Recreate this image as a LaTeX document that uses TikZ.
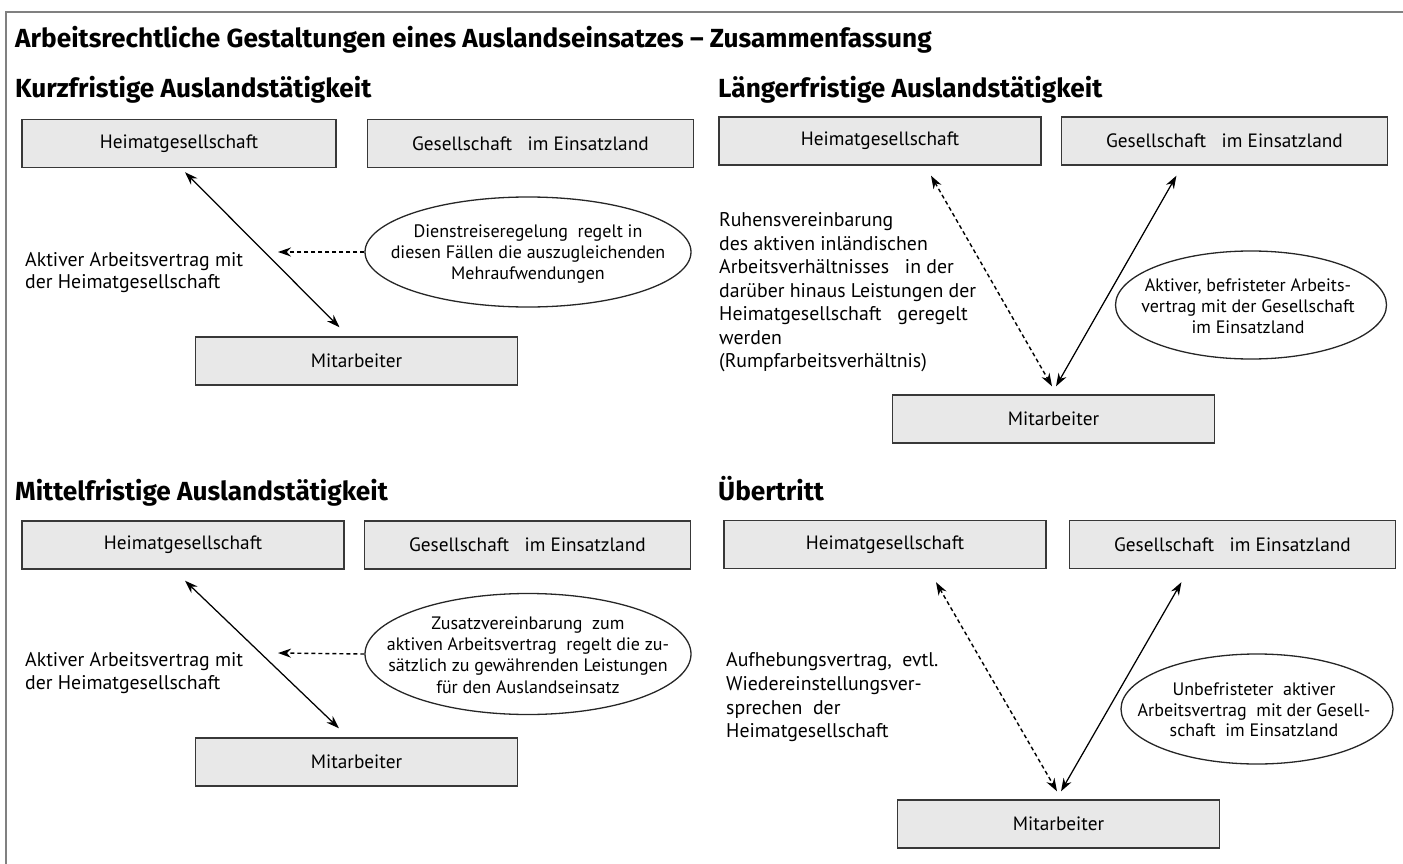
\documentclass[tikz,border=0pt]{standalone}
\usepackage{fontspec}
\setmainfont{PT Sans}
\newfontfamily\headfont{Fira Sans}
\usetikzlibrary{positioning,shapes.geometric,arrows.meta}

\begin{document}
\begin{tikzpicture}[x=1pt,y=-1pt,>={Stealth[length=13pt,width=9pt]},
  box/.style={rectangle,draw=black!78,fill=black!9,line width=1.4pt,
    minimum width=322pt,minimum height=48pt,inner sep=0pt,
    font=\fontsize{19.3}{22}\selectfont},
  wide box/.style={box,minimum width=326pt},
  oval/.style={ellipse,draw=black!85,line width=1.3pt,inner sep=0pt},
  oval text/.style={align=center,inner sep=0pt,font=\fontsize{18}{21}\selectfont},
  head/.style={anchor=base west,inner sep=0pt,font=\headfont\fontsize{26.2}{30}\selectfont\bfseries},
  side text/.style={anchor=west,align=left,inner sep=0pt},
  arr/.style={line width=1.25pt},
  dash arr/.style={arr,line width=1.4pt,dash pattern=on 4pt off 3pt}]

  \useasboundingbox (0,0) rectangle (1403,864);
  \draw[black!50,line width=1.8pt] (6,864) -- (6,12) -- (1403,12);

  \node[head] (title) at (15,48) {Arbeitsrechtliche Gestaltungen eines Auslandseinsatzes – Zusammenfassung};

  % kurzfristig
  \node[head] (k) at (15,98) {Kurzfristige Auslandstätigkeit};
  \node[box,minimum width=314pt] (h1) at (179,143.5) {Heimatgesellschaft};
  \node[wide box] (g1) [right=30pt of h1] {Gesellschaft\ \ \ im Einsatzland};
  \node[box] (m1) at (356.5,361) {Mitarbeiter};
  \node[oval,minimum width=326pt,minimum height=110pt] (e1) at (528,252) {};
  \node[oval text] (t1) at (528,254) {Dienstreiseregelung\ \ regelt in\\diesen Fällen die auszugleichenden\\Mehraufwendungen};
  \node[side text,font=\fontsize{19.8}{22}\selectfont] (a1) at (25,273) {Aktiver Arbeitsvertrag\ mit\\der Heimatgesellschaft};
  \coordinate (d1) at (278,252);
  \path ([xshift=6pt,yshift=-4pt]h1.south) edge[arr,<->] ([xshift=-17pt,yshift=9pt]m1.north)
    (e1.west) edge[dash arr,->] (d1);

  % laengerfristig
  \node[head] (l) at (718,98) {Längerfristige Auslandstätigkeit};
  \node[box] (h2) at (880,141) {Heimatgesellschaft};
  \node[wide box] (g2) [right=19pt of h2] {Gesellschaft\ \ \ im Einsatzland};
  \node[box] (m2) at (1053.5,419) {Mitarbeiter};
  \node[oval,minimum width=271pt,minimum height=108pt] (e2) at (1251,305) {};
  \node[oval text] (t2) at (1248,306) {Aktiver,\ befristeter\ Arbeits-\\vertrag mit der Gesellschaft\\im Einsatzland};
  \node[side text,font=\fontsize{19.8}{23.5}\selectfont] (a2) at (719,292.5) {Ruhensvereinbarung\\des\ aktiven\ inländischen\\Arbeitsverhältnisses\ \ \ in der\\darüber\ hinaus\ Leistungen\ der\\Heimatgesellschaft\ \ \ geregelt\\werden\\(Rumpfarbeitsverhältnis)};
  \path ([xshift=51pt,yshift=-10pt]h2.south) edge[dash arr,<->] ([xshift=-1.5pt,yshift=8pt]m2.north)
    ([xshift=-48pt,yshift=-10pt]g2.south) edge[arr,<->] ([xshift=2.5pt,yshift=8pt]m2.north);

  % mittelfristig
  \node[head] (mf) at (15,500) {Mittelfristige Auslandstätigkeit};
  \node[box] (h3) at (183,545) {Heimatgesellschaft};
  \node[wide box] (g3) [right=19pt of h3] {Gesellschaft\ \ \ im Einsatzland};
  \node[box] (m3) at (356.5,762) {Mitarbeiter};
  \node[oval,minimum width=326pt,minimum height=121pt] (e3) at (528,654) {};
  \node[oval text,font=\fontsize{18}{21.3}\selectfont] (t3) at (528,655) {Zusatzvereinbarung\ \ zum\\aktiven Arbeitsvertrag\ \ regelt die zu-\\sätzlich\ zu\ gewährenden\ Leistungen\\für den Auslandseinsatz};
  \node[side text,font=\fontsize{19.8}{23}\selectfont] (a3) at (25,673.5) {Aktiver Arbeitsvertrag\ mit\\der Heimatgesellschaft};
  \coordinate (d3) at (278,653);
  \path ([xshift=2pt,yshift=-11pt]h3.south) edge[arr,<->] ([xshift=-17.5pt,yshift=9pt]m3.north)
    (e3.west) edge[dash arr,->] (d3);

  % uebertritt
  \node[head] (u) at (718,500) {Übertritt};
  \node[box] (h4) at (885,544.5) {Heimatgesellschaft};
  \node[wide box] (g4) [right=22pt of h4] {Gesellschaft\ \ \ im Einsatzland};
  \node[box] (m4) at (1058.5,824) {Mitarbeiter};
  \node[oval,minimum width=272pt,minimum height=110pt] (e4) at (1257,709) {};
  \node[oval text,font=\fontsize{18}{20.5}\selectfont] (t4) at (1254,710) {Unbefristeter\ \ aktiver\\Arbeitsvertrag\ \ mit der Gesell-\\schaft\ \ im Einsatzland};
  \node[side text,font=\fontsize{19.8}{23.7}\selectfont] (a4) at (726,697.5) {Aufhebungsvertrag,\ \ evtl.\\Wiedereinstellungsver-\\sprechen\ \ der\\Heimatgesellschaft};
  \path ([xshift=51pt,yshift=-13pt]h4.south) edge[dash arr,<->] ([xshift=-1.5pt,yshift=8pt]m4.north)
    ([xshift=-51pt,yshift=-13pt]g4.south) edge[arr,<->] ([xshift=2.5pt,yshift=8pt]m4.north);
\end{tikzpicture}
\end{document}
